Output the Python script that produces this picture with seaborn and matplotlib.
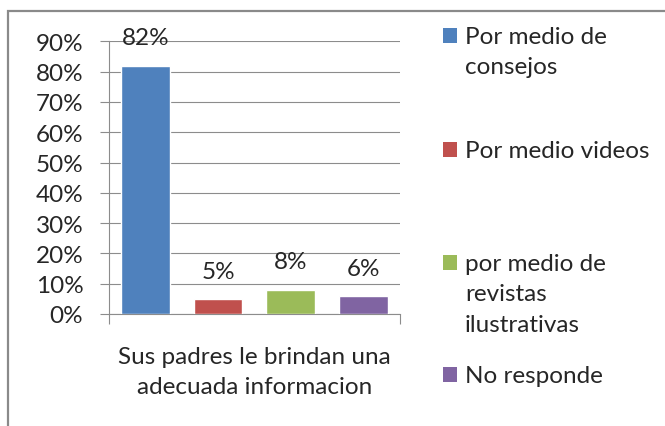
import matplotlib
matplotlib.use("Agg")
import matplotlib.pyplot as plt
from matplotlib.patches import Rectangle
import seaborn as sns
import pandas as pd

# Survey answers: how parents provide adequate information
categories = ["Por medio de\nconsejos", "Por medio videos",
              "por medio de\nrevistas\nilustrativas", "No responde"]
values = [0.82, 0.05, 0.08, 0.06]
value_labels = ["82%", "5%", "8%", "6%"]
colors = ["#4F81BD", "#C0504D", "#9BBB59", "#8064A2"]
yticks = [0.0, 0.1, 0.2, 0.3, 0.4, 0.5, 0.6, 0.7, 0.8, 0.9]
ytick_labels = ["0%", "10%", "20%", "30%", "40%", "50%", "60%", "70%", "80%", "90%"]
xlabel = "Sus padres le brindan una\nadecuada informacion"

sns.set_theme(style="white")
plt.rcParams["font.family"] = ["Lato", "DejaVu Sans"]

text_color = "#262626"
grid_color = "#8C8C8C"
fs = 17.5

df = pd.DataFrame({"cat": categories, "val": values})

fig = plt.figure(figsize=(6.65, 4.27), dpi=100)
ax = fig.add_axes([0.1639, 0.2623, 0.4376, 0.6386])

sns.barplot(data=df, x="cat", y="val", hue="cat", palette=colors,
            width=0.67, legend=False, ax=ax, saturation=1, zorder=3)

ax.set_xlim(-0.5, len(categories) - 0.5)
ax.set_ylim(0, 0.9)
ax.set_yticks(yticks)
ax.set_yticklabels(ytick_labels, fontsize=fs, color=text_color)
ax.yaxis.grid(True, color=grid_color, linewidth=0.8, zorder=0)
ax.set_axisbelow(True)
ax.tick_params(axis="y", length=6.5, width=0.8, color=grid_color, pad=12, left=True)

# category boundaries as tick marks on the x axis
ax.set_xticks([-0.5, len(categories) - 0.5])
ax.set_xticklabels(["", ""])
ax.tick_params(axis="x", length=7.2, width=0.8, color=grid_color, bottom=True)
ax.set_xlabel(xlabel, fontsize=fs, color=text_color, labelpad=12, linespacing=1.55)
ax.set_ylabel("")

for s in ["top", "right"]:
    ax.spines[s].set_visible(False)
for s in ["left", "bottom"]:
    ax.spines[s].set_color(grid_color)
    ax.spines[s].set_linewidth(0.8)

# value labels above each bar
for patch, lab in zip(ax.patches, value_labels):
    x = patch.get_x() + patch.get_width() / 2
    ax.annotate(lab, (x, patch.get_height()), xytext=(0, 20),
                textcoords="offset points", ha="center", va="center",
                fontsize=fs, color=text_color, annotation_clip=False)

# legend on the right, entries evenly spaced
W, H = 665, 427
legend_centers = [36, 150, 263, 375]
for cat, col, yc in zip(categories, colors, legend_centers):
    fig.patches.append(Rectangle((443 / W, 1 - (yc + 7.5) / H), 14 / W, 15 / H,
                                 transform=fig.transFigure, facecolor=col,
                                 edgecolor="none"))
    fig.text(465 / W, 1 - (yc - 9) / H, cat, fontsize=fs, color=text_color,
             ha="left", va="top", linespacing=1.55)

# outer chart frame
fig.patches.append(Rectangle((8 / W, -0.1), 1.2, 1 - 12 / H + 0.1,
                             transform=fig.transFigure, facecolor="none",
                             edgecolor="#8A8A8A", linewidth=1.6))

fig.savefig("out.png", dpi=100)
